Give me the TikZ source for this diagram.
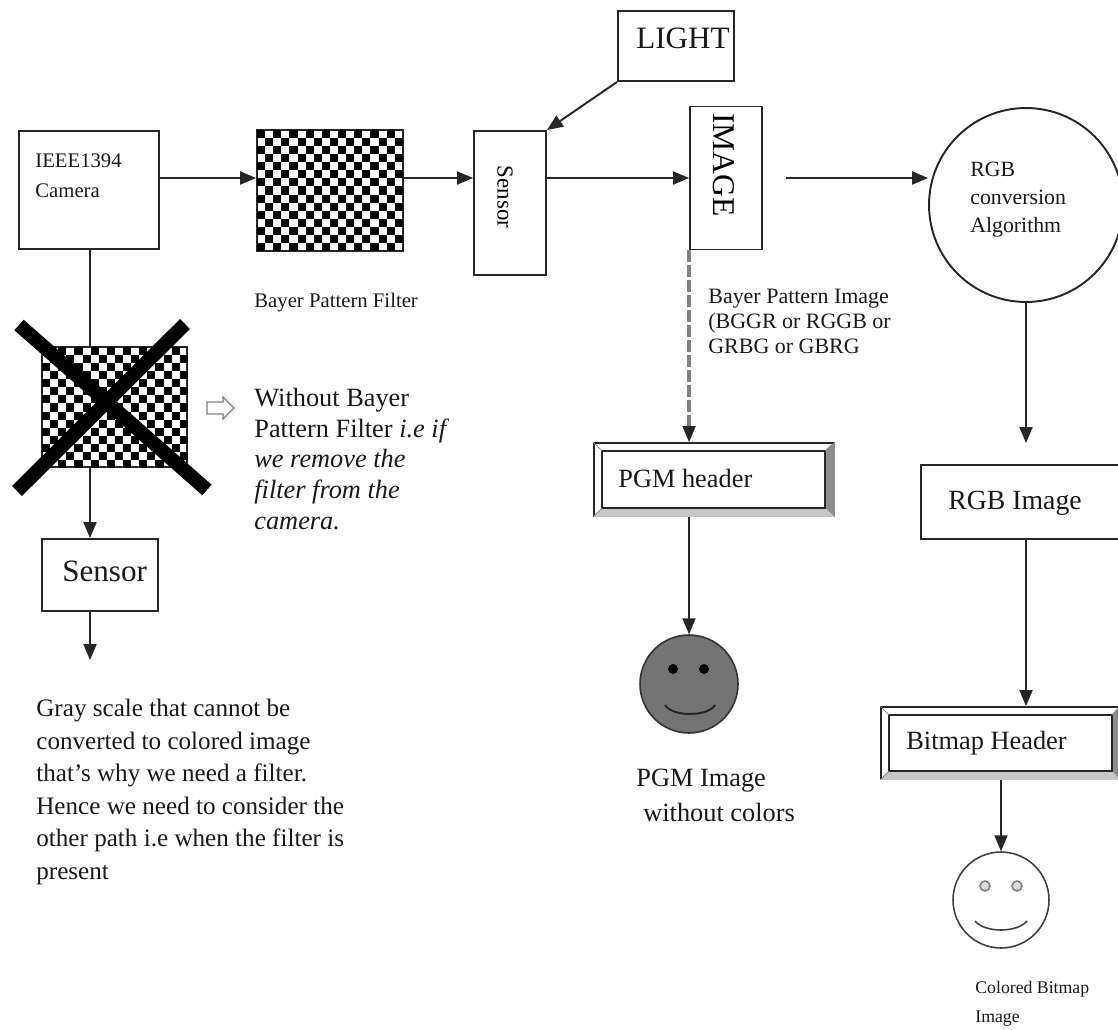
\documentclass[tikz,border=0pt]{standalone}
\usepackage{fontspec}
\setmainfont{Liberation Serif}
\usetikzlibrary{arrows}

% font size and line distance
\newcommand{\fs}[2]{\fontsize{#1}{#2}\selectfont}

% chess board, one cell is 8.1 x 8.07 units
\newcommand{\bayercells}[2]{
	\foreach \i in {0,...,17}
	{\foreach \j in {0,...,14}
		{\pgfmathtruncatemacro{\k}{mod(\i+\j,2)}
		\ifnum\k=0
		\fill[black] (#1+8.1*\i,#2+8.07*\j) rectangle ++(8.1,8.07);
		\fi
		}
	}
}

% gray edges of a raised box
\newcommand{\bevel}[3]{
	\fill[bevelgray] (#1.north east) -- (#1.south east) -- ([shift={(-#3,-#2)}]#1.south east) -- ([shift={(-#3,#2)}]#1.north east) -- cycle;
	\fill[bevellight] (#1.south west) -- (#1.south east) -- ([shift={(-#3,-#2)}]#1.south east) -- ([shift={(#2,-#2)}]#1.south west) -- cycle;
	\draw[line] ([shift={(#2,#2)}]#1.north west) rectangle ([shift={(-#3,-#2)}]#1.south east);
	\draw[thin,color=gray] (#1.north west) -- ++(#2,#2);
	\draw[thin,color=gray] (#1.north east) -- ++(-#3,#2);
	\draw[thin,color=gray] (#1.south west) -- ++(#2,-#2);
}

\definecolor{bevelgray}{gray}{0.55}
\definecolor{bevellight}{gray}{0.78}

\begin{document}
\begin{tikzpicture}[line cap=butt,line join=miter,>=triangle 45,x=0.02cm,y=-0.02cm,
	line/.style={line width=1.1pt,color=black!85},
	box/.style={draw=black!85,line width=1.1pt,inner sep=0pt,minimum width=#1},
	txt/.style={inner sep=0pt,align=left,anchor=west,color=black!90}]

		\useasboundingbox (0,0) rectangle (1118,1030);

		%laatikot
		\node[box=2.8cm,minimum height=2.36cm] (cam) at (89,190) {};
		\node[box=1.44cm,minimum height=2.88cm] (sen) at (510,203) {};
		\node[font=\fs{13}{15},rotate=-90,inner sep=0pt] (sentxt) at (505,197) {Sensor};
		\node[box=1.44cm,minimum height=2.86cm] (img) at (726,178) {};
		\node[font=\fs{18}{20},rotate=-90,inner sep=0pt] (imgtxt) at (724,165) {IMAGE};
		\node[box=2.32cm,minimum height=1.4cm] (lig) at (676,46) {};
		\node[box=2.32cm,minimum height=1.44cm] (sen2) at (100,575) {};
		\node[box=3.98cm,minimum height=1.48cm] (rgb) at (1020,502) {};
		\node[draw=black!85,line width=1.1pt,circle,inner sep=0pt,minimum size=3.88cm] (alg) at (1026,205) {};

		%suodatin
		\node[box=2.92cm,minimum height=2.42cm] (flt) at (330,190.5) {};
		\bayercells{257}{130}

		%kehykset
		\node[box=4.8cm,minimum height=1.46cm] (pgm) at (714,479.5) {};
		\bevel{pgm}{9}{10}
		\node[box=4.76cm,minimum height=1.44cm] (bit) at (1000,743) {};
		\bevel{bit}{9}{8}

		%nuolet
		\coordinate (rgbfrom) at (786,178);
		\coordinate (rgbto) at (1026,443);
		\coordinate (gryto) at (90,660);
		\draw[->,line] (cam.east |- img.west) -- (flt.west |- img.west);
		\draw[->,line] (flt.east |- img.west) -- (sen.west |- img.west);
		\draw[->,line] (sen.east |- img.west) -- (img.west);
		\draw[->,line] (rgbfrom) -- (alg.west |- rgbfrom);
		\draw[->,line] (lig.south west) -- (sen.north east);
		\draw[->,line] (alg.south) -- (rgbto);
		\draw[->,line] (rgb.south -| alg.south) -- (bit.north -| alg.south);
		\draw[->,line] (sen2.south -| gryto) -- (gryto);
		\draw[->,line] (cam.south -| gryto) -- (sen2.north -| gryto);
		\draw[color=gray,line width=2.5pt,dash pattern=on 6.8pt off 1.7pt] (img.south west) -- ([yshift=0.26cm]pgm.north -| img.south west);
		\draw[->,line] ([yshift=0.3cm]pgm.north -| img.south west) -- (pgm.north -| img.south west);

		%suodatin joka on poistettu
		\node[box=2.9cm,minimum height=2.4cm,fill=white] (flt2) at (114.5,407) {};
		\bayercells{42}{347}
		\draw[line width=8pt,color=black] (19,325) -- (207,490);
		\draw[line width=8pt,color=black] (185,324) -- (17,491);

		%hymiot
		\node[draw=black!80,line width=0.9pt,circle,fill=black!55,inner sep=0pt,minimum size=1.96cm] (smg) at (689,684) {};
		\fill[black] (673,669) circle [radius=5];
		\fill[black] (704,669) circle [radius=5];
		\draw[line] (665,705) .. controls (672,717) and (708,717) .. (715,705);
		\node[draw=black!75,line width=0.9pt,circle,inner sep=0pt,minimum size=1.92cm] (smw) at (1001,900) {};
		\draw[line width=0.9pt,color=gray,fill=black!15] (985,886) circle [radius=5];
		\draw[line width=0.9pt,color=gray,fill=black!15] (1017,886) circle [radius=5];
		\draw[line width=0.9pt,color=black!75] (975,921) .. controls (985,933) and (1017,933) .. (1027,921);
		\draw[->,line] (pgm.south -| smg.north) -- (smg.north);
		\draw[->,line] (bit.south -| smw.north) -- (smw.north);

		%ontto nuoli
		\draw[line width=0.8pt,color=gray,fill=white] (207,402) -- (223,402) -- (223,397) -- (234,408) -- (223,419) -- (223,414) -- (207,414) -- cycle;

		%tekstit
		\node[txt,font=\fs{11.8}{17}] (camlab) at (35,176) {IEEE1394\\Camera};
		\node[txt,font=\fs{17.7}{20}] (liglab) at (636,38) {LIGHT};
		\node[txt,font=\fs{17.7}{20}] (senlab) at (62,571) {Sensor};
		\node[txt,font=\fs{15.8}{20}] (rgblab) at (948,503) {RGB Image};
		\node[txt,font=\fs{15}{20}] (pgmhead) at (618,478) {PGM header};
		\node[txt,font=\fs{15}{20}] (bithead) at (906,743) {Bitmap Header};
		\node[txt,font=\fs{11.8}{14}] (fltlab) at (254,303) {Bayer Pattern Filter};
		\node[txt,font=\fs{15}{17.6}] (nofilter) at (254,459) {Without Bayer\\Pattern Filter \textit{i.e if}\\\textit{we remove the}\\\textit{filter from the}\\\textit{camera.}};
		\node[txt,font=\fs{12.5}{14.2}] (imglab) at (708,321) {Bayer Pattern Image\\(BGGR or RGGB or\\GRBG or GBRG};
		\node[txt,font=\fs{12.4}{16}] (alglab) at (970,200) {RGB\\conversion\\Algorithm};
		\node[txt,font=\fs{14.3}{18.5}] (grylab) at (36,792) {Gray scale that cannot be\\converted to colored image\\that's why we need a filter.\\Hence we need to consider the\\other path i.e when the filter is\\present};
		\node[txt,font=\fs{15}{20}] (pgmlab) at (636,795) {PGM Image\\\hspace*{0.14cm}without colors};
		\node[txt,font=\fs{10.1}{16.4}] (bitlab) at (975,1004) {Colored Bitmap\\Image};

\end{tikzpicture}
\end{document}
